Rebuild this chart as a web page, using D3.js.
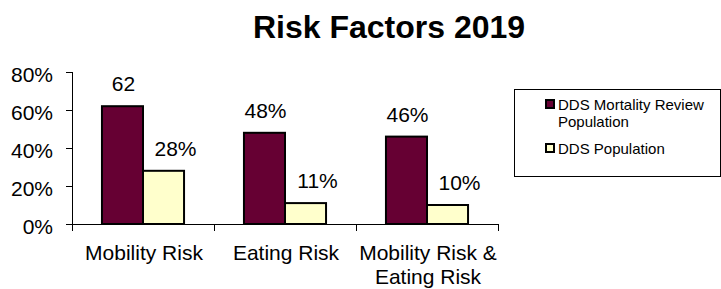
<!DOCTYPE html>
<html>
<head>
<meta charset="utf-8">
<script src="https://cdn.jsdelivr.net/npm/d3@7"></script>
<style>
    body { margin: 0; background: #fff; }
    text { font-family: "Liberation Sans", Arial, sans-serif; fill: #000; }
</style>
</head>
<body>
<div class="graph-goes-here"></div>
<script>
// chart values
var categories = ["Mobility Risk", "Eating Risk", "Mobility Risk & Eating Risk"];
var categoryLines = [["Mobility Risk"], ["Eating Risk"], ["Mobility Risk &", "Eating Risk"]];
var seriesNames = ["DDS Mortality Review Population", "DDS Population"];
var legendLines = [["DDS Mortality Review", "Population"], ["DDS Population"]];
var mortalityValues = [0.62, 0.48, 0.46];
var populationValues = [0.28, 0.11, 0.10];
var mortalityLabels = ["62", "48%", "46%"];
var populationLabels = ["28%", "11%", "10%"];
var yTicks = [0, 0.2, 0.4, 0.6, 0.8];
var colors = ["#660033", "#FFFFCC"];

var width = 721, height = 289;

var svg = d3.select(".graph-goes-here")
    .append("svg")
    .attr("width", width)
    .attr("height", height);

// title
svg.append("text")
    .attr("x", 389)
    .attr("y", 38)
    .attr("text-anchor", "middle")
    .style("font-size", "32px")
    .style("font-weight", "bold")
    .text("Risk Factors 2019");

var plotLeft = 72, plotRight = 498, plotTop = 72, plotBottom = 224;

var xScale = d3.scaleBand().domain(categories).range([plotLeft, plotRight]).padding(0);
var seriesScale = d3.scaleBand().domain(seriesNames).range([0, xScale.bandwidth()]).paddingInner(0).paddingOuter(0.73);
var yScale = d3.scaleLinear().domain([0, 0.8]).range([plotBottom, plotTop]);

// y axis
var yAxis = svg.append("g")
    .attr("transform", "translate(" + plotLeft + ",0)")
    .call(d3.axisLeft(yScale).tickValues(yTicks).tickFormat(d3.format(".0%")).tickSize(6).tickSizeOuter(0).tickPadding(13));
yAxis.select(".domain").remove();
yAxis.selectAll("line").attr("stroke", "#000");
yAxis.selectAll("text")
    .attr("dy", "0.45em")
    .style("font-size", "21px")
    .style("font-family", "'Liberation Sans', Arial, sans-serif");

svg.append("line")
    .attr("x1", plotLeft + 0.5).attr("x2", plotLeft + 0.5)
    .attr("y1", plotTop).attr("y2", plotBottom + 7)
    .attr("stroke", "#000");

// x axis line and category separators
svg.append("line")
    .attr("x1", plotLeft - 6).attr("x2", plotRight)
    .attr("y1", plotBottom + 0.5).attr("y2", plotBottom + 0.5)
    .attr("stroke", "#000");

var boundaries = [plotLeft].concat(categories.map(c => xScale(c) + xScale.bandwidth()));
svg.selectAll(".xtick")
    .data(boundaries)
    .enter().append("line")
    .attr("class", "xtick")
    .attr("x1", d => Math.round(d) + 0.5).attr("x2", d => Math.round(d) + 0.5)
    .attr("y1", plotBottom).attr("y2", plotBottom + 7)
    .attr("stroke", "#000");

// bars
var groups = svg.selectAll(".group")
    .data(categories)
    .enter().append("g")
    .attr("class", "group")
    .attr("transform", d => "translate(" + xScale(d) + ",0)");

var seriesValues = [mortalityValues, populationValues];
var seriesLabels = [mortalityLabels, populationLabels];
var labelShift = [1, 12];

groups.each(function (cat, i) {
    var g = d3.select(this);
    seriesNames.forEach(function (s, j) {
        var v = seriesValues[j][i];
        g.append("rect")
            .attr("x", seriesScale(s))
            .attr("y", yScale(v))
            .attr("width", seriesScale.bandwidth())
            .attr("height", plotBottom - yScale(v))
            .attr("fill", colors[j])
            .attr("stroke", "#000")
            .attr("stroke-width", 2);
        g.append("text")
            .attr("x", seriesScale(s) + seriesScale.bandwidth() / 2 + labelShift[j])
            .attr("y", yScale(v) - 15)
            .attr("text-anchor", "middle")
            .style("font-size", "21px")
            .text(seriesLabels[j][i]);
    });
    var label = g.append("text")
        .attr("text-anchor", "middle")
        .style("font-size", "21px");
    categoryLines[i].forEach(function (line, k) {
        label.append("tspan")
            .attr("x", xScale.bandwidth() / 2 + 1)
            .attr("y", 260 + k * 24)
            .text(line);
    });
});

// legend
var legend = svg.append("g");
legend.append("rect")
    .attr("x", 514.5).attr("y", 89.5)
    .attr("width", 206).attr("height", 87)
    .attr("fill", "#fff")
    .attr("stroke", "#000");

var legendY = [100, 144];
seriesNames.forEach(function (s, j) {
    legend.append("rect")
        .attr("x", 546).attr("y", legendY[j])
        .attr("width", 8).attr("height", 8)
        .attr("fill", colors[j])
        .attr("stroke", "#000")
        .attr("stroke-width", 2);
    var t = legend.append("text").style("font-size", "15px");
    legendLines[j].forEach(function (line, k) {
        t.append("tspan")
            .attr("x", 558)
            .attr("y", legendY[j] + 10 + k * 17)
            .text(line);
    });
});
</script>
</body>
</html>
